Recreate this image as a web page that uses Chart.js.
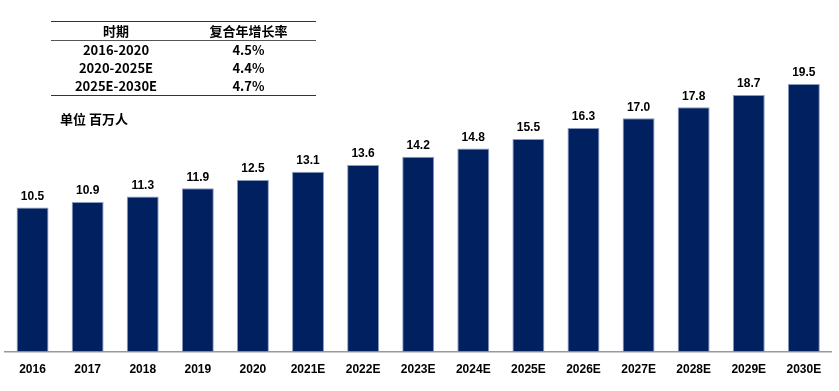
<!DOCTYPE html>
<html>
<head>
<meta charset="utf-8">
<script src="https://cdn.jsdelivr.net/npm/chart.js@4"></script>
<style>
  html, body { margin: 0; padding: 0; background: #fff; }
  #wrap { position: relative; width: 839px; height: 391px; }
  #cagr {
    position: absolute; left: 51px; top: 21px; width: 265px;
    border-collapse: collapse;
    font-family: "Noto Sans CJK SC", "Liberation Sans", Arial, sans-serif;
    font-weight: bold; font-size: 13px; color: #000;
    border-top: 1.5px solid #333; border-bottom: 1.5px solid #333;
  }
  #cagr th, #cagr td { padding: 0; height: 18px; line-height: 18px; text-align: center; }
  #cagr th { border-bottom: 1px solid #555; }
  #cagr .c1 { width: 130px; }
  #unit {
    position: absolute; left: 60px; top: 109px;
    font-family: "Noto Sans CJK SC", sans-serif; font-weight: bold; font-size: 13px;
  }
</style>
</head>
<body>
<div id="wrap">
  <canvas id="barChart" width="839" height="391"></canvas>
  <table id="cagr">
    <thead><tr><th class="c1">时期</th><th>复合年增长率</th></tr></thead>
    <tbody id="cagrBody"></tbody>
  </table>
  <div id="unit">单位 百万人</div>
</div>
<script>
// --- data ---
const years = ['2016', '2017', '2018', '2019', '2020', '2021E', '2022E', '2023E',
               '2024E', '2025E', '2026E', '2027E', '2028E', '2029E', '2030E'];
const population = [10.5, 10.9, 11.3, 11.9, 12.5, 13.1, 13.6, 14.2,
                    14.8, 15.5, 16.3, 17.0, 17.8, 18.7, 19.5];
const periods = ['2016-2020', '2020-2025E', '2025E-2030E'];
const cagrRates = ['4.5%', '4.4%', '4.7%'];

// fill the CAGR table
const cagrBody = document.getElementById('cagrBody');
periods.forEach((p, i) => {
    const tr = document.createElement('tr');
    tr.innerHTML = `<td class="c1">${p}</td><td>${cagrRates[i]}</td>`;
    cagrBody.appendChild(tr);
});

// value labels on top of each bar
const barLabels = {
    id: 'barLabels',
    afterDatasetsDraw(chart) {
        const { ctx } = chart;
        const meta = chart.getDatasetMeta(0);
        ctx.save();
        ctx.font = 'bold 12px "Liberation Sans", Arial, sans-serif';
        ctx.fillStyle = '#000';
        ctx.textAlign = 'center';
        ctx.textBaseline = 'bottom';
        meta.data.forEach((bar, i) => {
            ctx.fillText(population[i].toFixed(1), bar.x, bar.y - 5);
        });
        ctx.restore();
    }
};

const ctx = document.getElementById('barChart').getContext('2d');
const barChart = new Chart(ctx, {
    type: 'bar',
    data: {
        labels: years,
        datasets: [{
            data: population,
            backgroundColor: '#002060',
            borderColor: '#8a9bbf',
            borderWidth: { top: 1, left: 1, right: 1, bottom: 0 },
            categoryPercentage: 1.0,
            barPercentage: 0.58
        }]
    },
    options: {
        responsive: false,
        animation: false,
        layout: { padding: { top: 8.5, left: 5, right: 7.6, bottom: 3 } },
        plugins: { legend: { display: false }, tooltip: { enabled: false } },
        scales: {
            x: {
                grid: { display: false, drawTicks: false },
                border: { display: true, color: '#999', width: 1.5 },
                ticks: {
                    padding: 11,
                    color: '#000',
                    font: { family: '"Liberation Sans", Arial, sans-serif', size: 12, weight: 'bold' }
                }
            },
            y: { display: false, min: 0, max: 25 }
        }
    },
    plugins: [barLabels]
});
</script>
</body>
</html>
